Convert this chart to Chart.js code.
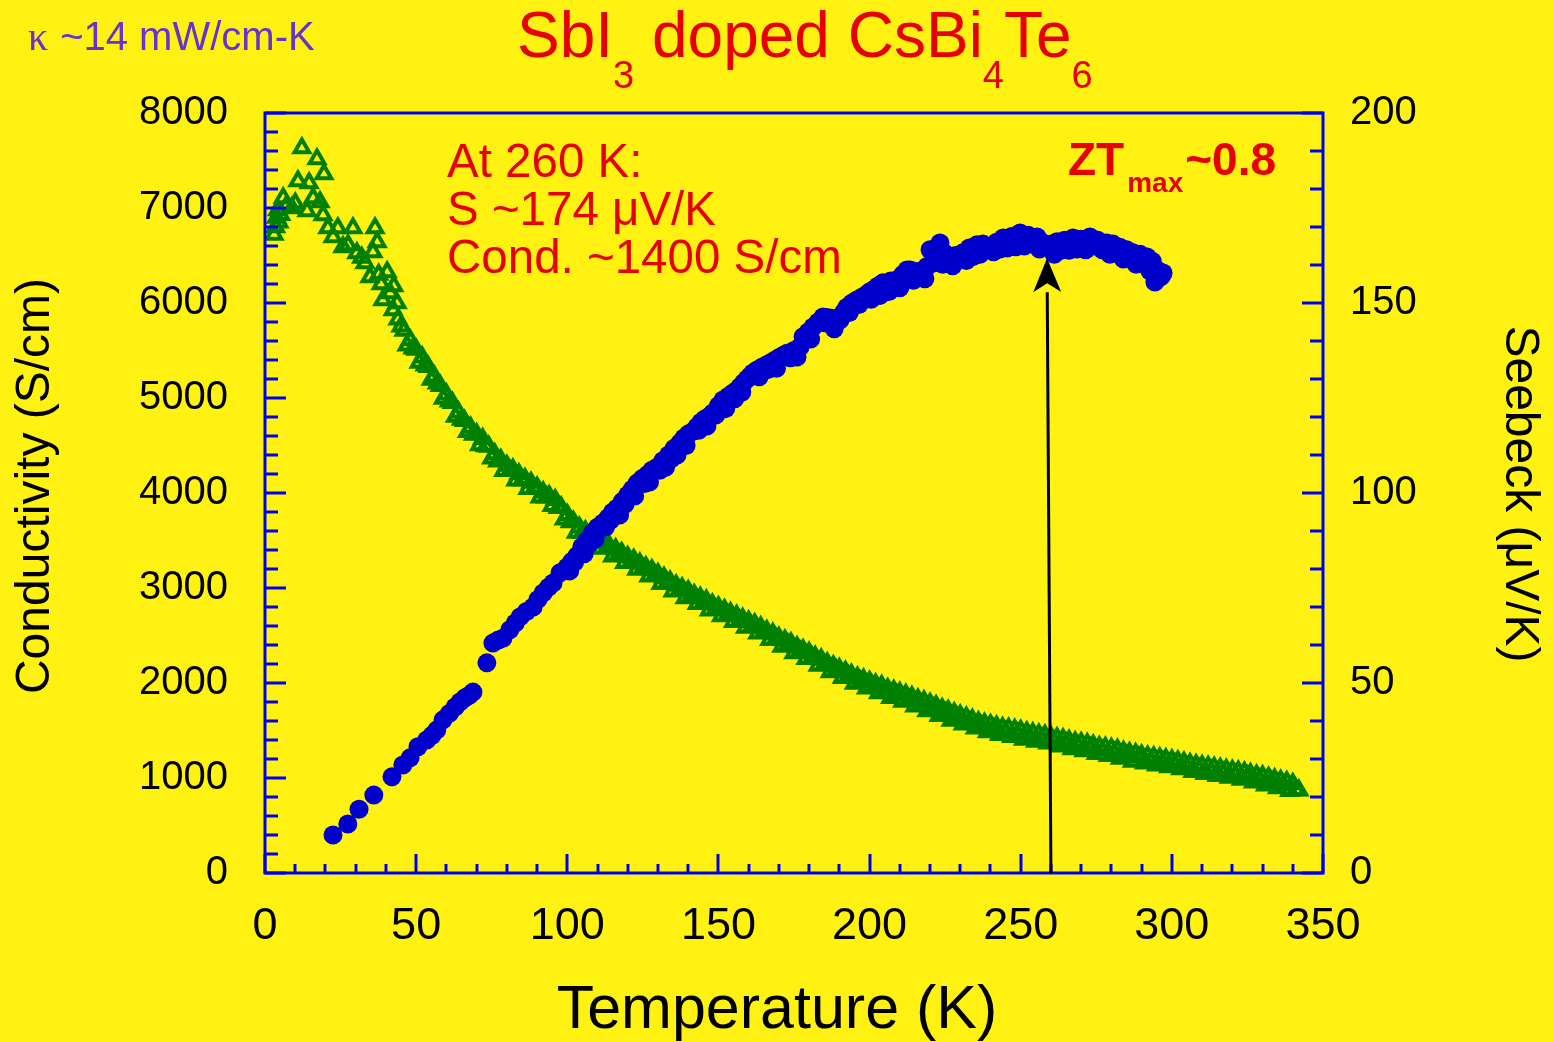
<!DOCTYPE html>
<html>
<head>
<meta charset="utf-8">
<script src="https://cdn.jsdelivr.net/npm/chart.js@4.4.0/dist/chart.umd.min.js"></script>
<style>
  html, body { margin: 0; padding: 0; background: #FFF212; }
  #wrap { width: 1554px; height: 1042px; }
</style>
</head>
<body>
<div id="wrap"><canvas id="c" width="1554" height="1042"></canvas></div>
<script>
// Electrical conductivity (S/cm) vs temperature (K), first sweep
const temperatureCond = [
  3.0, 3.5, 3.8, 4.2, 4.6, 5.2, 6.0, 7.2, 8.9, 10.0, 10.9, 12.2, 13.9, 14.6, 15.9, 17.2,
  18.2, 19.2, 19.5, 20.8, 22.5, 24.1, 25.8, 27.5, 29.1, 30.4, 32.0, 33.1, 34.7, 35.7, 36.4,
  37.1, 37.6, 38.4, 39.0, 40.4, 41.4, 42.4, 42.6, 43.7,
  44, 46, 48, 50, 52, 54, 56, 58, 60, 62, 64, 66, 68, 70, 72, 74, 76, 78, 80, 82, 84, 86, 88,
  90, 92, 94, 96, 98, 100, 102, 104, 106, 108, 110, 112, 114, 116, 118, 120, 122, 124, 126,
  128, 130, 132, 134, 136, 138, 140, 142, 144, 146, 148, 150, 152, 154, 156, 158, 160, 162,
  164, 166, 168, 170, 172, 174, 176, 178, 180, 182, 184, 186, 188, 190, 192, 194, 196, 198,
  200, 202, 204, 206, 208, 210, 212, 214, 216, 218, 220, 222, 224, 226, 228, 230, 232, 234,
  236, 238, 240, 242, 244, 246, 248, 250, 252, 254, 256, 258, 260, 262, 264, 266, 268, 270,
  272, 274, 276, 278, 280, 282, 284, 286, 288, 290, 292, 294, 296, 298, 300, 302, 304, 306,
  308, 310, 312, 314, 316, 318, 320, 322, 324, 326, 328, 330, 332, 334, 336, 338, 340, 342
];
const conductivity = [
  6720, 6800, 6900, 6980, 6850, 6930, 7105, 7030, 7000, 7050, 7284, 7632, 6968, 7263, 7105, 7516,
  7063, 6926, 7358, 6789, 6695, 6789, 6589, 6610, 6789, 6526, 6480, 6421, 6274, 6537, 6789,
  6642, 6300, 6200, 6032, 6326, 6105, 5926, 6180, 6000,
  5830, 5710, 5610, 5510, 5430, 5330, 5230, 5130, 5040, 4950, 4850, 4760, 4690, 4620, 4570, 4490, 4410, 4350, 4290, 4250, 4200, 4150, 4110,
  4060, 4010, 3970, 3930, 3850, 3770, 3700, 3640, 3600, 3560, 3520, 3480, 3440, 3410, 3370, 3330, 3300, 3260, 3220,
  3190, 3150, 3110, 3070, 3030, 3000, 2970, 2930, 2900, 2870, 2830, 2800, 2770, 2740, 2710, 2680, 2650, 2620,
  2590, 2550, 2520, 2480, 2450, 2420, 2380, 2350, 2320, 2280, 2250, 2210, 2180, 2150, 2120, 2090, 2060, 2040,
  2015, 1990, 1970, 1940, 1920, 1900, 1880, 1855, 1830, 1810, 1785, 1760, 1730, 1710, 1685, 1660, 1640, 1615,
  1590, 1575, 1560, 1545, 1530, 1520, 1510, 1500, 1485, 1475, 1460, 1450, 1435, 1420, 1410, 1395, 1380, 1370,
  1360, 1345, 1330, 1320, 1310, 1300, 1280, 1265, 1255, 1240, 1230, 1220, 1210, 1200, 1190, 1180, 1165, 1150,
  1140, 1130, 1120, 1110, 1100, 1090, 1080, 1070, 1060, 1045, 1030, 1020, 1005, 990, 975, 960, 940, 870
];

// Conductivity, second sweep (interleaved temperatures)
const temperatureCond2 = [
  45, 47, 49, 51, 53, 55, 57, 59, 61, 63, 65, 67, 69, 71, 73, 75, 77, 79, 81, 83, 85, 87, 89,
  91, 93, 95, 97, 99, 101, 103, 105, 107, 109, 111, 113, 115, 117, 119, 121, 123, 125, 127,
  129, 131, 133, 135, 137, 139, 141, 143, 145, 147, 149, 151, 153, 155, 157, 159, 161, 163,
  165, 167, 169, 171, 173, 175, 177, 179, 181, 183, 185, 187, 189, 191, 193, 195, 197, 199,
  201, 203, 205, 207, 209, 211, 213, 215, 217, 219, 221, 223, 225, 227, 229, 231, 233, 235,
  237, 239, 241, 243, 245, 247, 249, 251, 253, 255, 257, 259, 261, 263, 265, 267, 269, 271,
  273, 275, 277, 279, 281, 283, 285, 287, 289, 291, 293, 295, 297, 299, 301, 303, 305, 307,
  309, 311, 313, 315, 317, 319, 321, 323, 325, 327, 329, 331, 333, 335, 337, 339, 341
];
const conductivity2 = [
  5755, 5555, 5525, 5375, 5345, 5195, 5155, 4995, 4965, 4805, 4775, 4645, 4615, 4505, 4495, 4365, 4335, 4235, 4235, 4135, 4135, 4045, 4045,
  3955, 3955, 3865, 3845, 3725, 3695, 3585, 3585, 3495, 3505, 3415, 3425, 3335, 3355, 3265, 3275, 3195, 3205, 3125,
  3135, 3045, 3055, 2965, 2975, 2895, 2915, 2835, 2845, 2765, 2775, 2705, 2715, 2645, 2655, 2585, 2595, 2525,
  2535, 2455, 2465, 2385, 2405, 2315, 2335, 2255, 2265, 2185, 2195, 2115, 2135, 2055, 2075, 1995, 2015, 1945,
  1965, 1895, 1915, 1845, 1875, 1805, 1825, 1755, 1775, 1705, 1735, 1655, 1685, 1605, 1635, 1565, 1585, 1525,
  1545, 1485, 1515, 1455, 1485, 1435, 1465, 1405, 1435, 1385, 1415, 1365, 1385, 1335, 1365, 1305, 1335, 1285,
  1315, 1255, 1285, 1235, 1265, 1205, 1235, 1175, 1215, 1155, 1185, 1135, 1165, 1115, 1145, 1095, 1115, 1065,
  1095, 1045, 1075, 1025, 1055, 1005, 1035, 985, 1015, 955, 985, 925, 955, 895, 925, 865, 875
];

// Seebeck coefficient (µV/K) vs temperature (K), first sweep
const temperatureSeebeck = [
  22.5, 27.4, 31.1, 36.0, 42.0, 45.6, 48.0, 50.6, 53.5, 55.2, 56.8, 58.9, 61.0, 62.9, 64.5, 66.2,
  67.6, 68.8, 73.4, 75.4, 77.2, 78.7, 81.0, 82.8, 84.4, 86.5, 88.7, 90.3, 92.0, 93.8, 95.3, 97.6,
  99.9, 101.5, 103.2, 104.8, 106.5, 108.3, 110.0, 111.8, 113.5, 115.0, 116.4, 118.2, 120.0, 121.5,
  123.1, 124.8, 126.5, 128.0, 129.7, 131.6, 133.5, 135.4, 137.3, 138.6, 140.0, 141.5, 142.9, 144.2,
  145.5, 147.0, 148.2, 150.0, 151.5, 153.2, 154.8, 156.0, 157.1, 158.3, 159.5, 160.5, 161.4, 162.8,
  164.2, 165.7, 167.1, 168.5, 170.0, 171.4, 172.7, 175.0, 177.0, 178.0, 179.7, 181.3, 183.0, 184.6,
  186.0, 187.5, 189.0, 190.2, 191.4, 192.5, 194.2, 195.8, 197.2, 198.5, 199.8, 201.1, 202.7, 204.4,
  205.8, 207.0, 209.1, 211.0, 212.4, 213.4, 215.5, 216.7, 217.7, 219.0, 220.0, 221.0, 222.0, 223.3,
  225.0, 226.6, 228.5, 230.9, 233.0, 235.5, 237.5, 239.8, 242.0, 244.2, 247.0, 249.8, 252.5, 255.4,
  257.0, 258.7, 260.3, 262.0, 264.5, 267.3, 270.0, 272.9, 275.5, 278.5, 280.5, 282.8, 285.0, 287.1,
  289.5, 291.8, 293.5, 295.1, 294.4, 296.0, 297.1
];
const seebeck = [
  10.0, 12.9, 16.8, 20.5, 25.3, 28.4, 30.3, 33.2, 35.0, 36.2, 37.6, 40.3, 42.0, 43.7, 45.0, 46.1,
  46.8, 47.6, 55.3, 60.5, 61.3, 61.8, 64.0, 65.8, 67.4, 68.8, 70.0, 72.0, 73.7, 75.2, 76.3, 79.0,
  80.5, 82.0, 83.5, 85.8, 87.5, 89.5, 91.0, 92.1, 93.5, 95.0, 96.0, 97.8, 99.5, 101.0,
  102.6, 103.8, 104.8, 106.0, 106.8, 108.5, 110.0, 111.8, 113.2, 114.5, 115.5, 116.2, 117.4, 118.6,
  119.5, 120.2, 121.1, 123.0, 124.5, 125.4, 126.3, 127.0, 127.9, 129.0, 130.0, 130.8, 131.6, 132.4,
  133.0, 133.6, 134.2, 134.9, 135.6, 136.2, 136.8, 137.5, 138.4, 141.1, 142.4, 143.7, 145.0, 146.3,
  146.2, 146.0, 145.6, 145.5, 147.5, 148.9, 150.0, 150.8, 151.4, 152.0, 152.8, 153.4, 154.4, 155.3,
  154.2, 155.8, 156.1, 157.5, 158.7, 158.7, 158.3, 157.9, 158.7, 159.6, 164.0, 160.5, 164.5, 165.8,
  163.0, 161.3, 162.5, 163.2, 164.5, 165.3, 165.5, 164.7, 166.0, 167.1, 167.5, 168.4, 167.8, 167.4,
  166.0, 164.7, 165.5, 166.1, 166.5, 167.1, 166.8, 167.4, 166.5, 165.8, 165.5, 164.7, 164.0, 163.2,
  162.8, 162.1, 161.0, 158.7, 155.5, 156.8, 157.9
];

// Seebeck, second sweep
const temperatureSeebeck2 = [
  100.8, 102.4, 105.6, 107.4, 109.2, 112.6, 114.3, 117.3, 119.1, 122.3, 125.6, 127.2, 130.6,
  132.5, 134.4, 136.3, 139.3, 143.5, 146.2, 149.1, 152.4, 155.4, 157.7, 163.5, 166.4, 169.2,
  173.8, 176.0, 180.5, 185.3, 188.3, 193.3, 196.5, 200.5, 203.5, 206.4, 208.0, 210.0, 214.5,
  218.3, 224.2, 227.5, 229.7, 232.0, 234.2, 236.5, 238.6, 241.0, 243.1, 245.6, 248.4, 251.2,
  253.9, 256.2, 261.1, 263.2, 266.0, 268.6, 271.5, 274.2, 277.0, 279.5, 281.6, 284.0, 286.0,
  288.2, 290.6, 292.7, 294.0, 296.5
];
const seebeck2 = [
  79.5, 81.8, 84.0, 86.8, 87.8, 91.0, 92.8, 94.2, 97.0, 99.2, 102.5, 102.9, 106.0,
  106.8, 109.0, 110.0, 112.5, 116.5, 117.6, 120.5, 122.2, 124.8, 126.5, 130.6, 132.5, 132.8,
  135.6, 135.8, 140.5, 144.8, 143.2, 147.5, 149.6, 151.0, 152.0, 153.0, 154.8, 154.0, 156.0,
  156.4, 160.2, 159.8, 161.5, 161.2, 162.2, 162.8, 164.0, 163.5, 164.2, 164.5, 164.8, 165.0,
  166.1, 164.2, 162.8, 163.8, 163.9, 164.2, 164.0, 165.0, 164.0, 162.8, 163.9, 161.6, 162.2,
  160.2, 160.9, 158.5, 157.8, 157.0
];

// Axis tick labels
const xTickValues = [0, 50, 100, 150, 200, 250, 300, 350];
const yLeftTickValues = [0, 1000, 2000, 3000, 4000, 5000, 6000, 7000, 8000];
const yRightTickValues = [0, 50, 100, 150, 200];

// Arrow marking the 260 K point
const arrowBaseT = 260.0;
const arrowTipT = 258.7;
const arrowTipS = 161.8;

const BG = '#FFF212';
const AXIS = '#0000F0';
const GREEN = '#008000';
const BLUE = '#0000CC';
const RED = '#E60000';
const PURPLE = '#6633CC';
const SANS = '"Liberation Sans", Arial, Helvetica, sans-serif';

function drawRun(ctx, parts, x) {
  let cx = x;
  for (const p of parts) {
    ctx.font = p.font;
    ctx.fillStyle = p.color;
    ctx.fillText(p.text, cx, p.y);
    cx += ctx.measureText(p.text).width + (p.gap || 0);
  }
}

const decor = {
  id: 'decor',
  beforeDraw(chart) {
    const ctx = chart.ctx;
    ctx.save();
    ctx.fillStyle = BG;
    ctx.fillRect(0, 0, chart.width, chart.height);
    ctx.restore();
  },
  afterDraw(chart) {
    const ctx = chart.ctx;
    const a = chart.chartArea;
    const sx = chart.scales.x, sy = chart.scales.y, sy1 = chart.scales.y1;
    ctx.save();

    // inward tick marks
    ctx.strokeStyle = AXIS;
    ctx.lineWidth = 3;
    ctx.lineCap = 'butt';
    const seg = (x1, y1, x2, y2) => { ctx.beginPath(); ctx.moveTo(x1, y1); ctx.lineTo(x2, y2); ctx.stroke(); };
    for (let t = 0; t <= 350; t += 10) {
      const px = Math.round(sx.getPixelForValue(t));
      seg(px, a.bottom, px, a.bottom - (t % 50 === 0 ? 19 : 9));
    }
    for (let v = 0; v <= 8000; v += 200) {
      const py = Math.round(sy.getPixelForValue(v));
      seg(a.left, py, a.left + (v % 1000 === 0 ? 21 : 13), py);
    }
    for (let v = 0; v <= 200; v += 10) {
      const py = Math.round(sy1.getPixelForValue(v));
      seg(a.right, py, a.right - (v % 50 === 0 ? 21 : 13), py);
    }
    // frame
    ctx.strokeRect(a.left, a.top, a.right - a.left, a.bottom - a.top);

    // arrow at 260 K
    const bx = sx.getPixelForValue(arrowBaseT), by = a.bottom;
    const tx = sx.getPixelForValue(arrowTipT), ty = sy1.getPixelForValue(arrowTipS);
    const ang = Math.atan2(ty - by, tx - bx);
    const headLen = 34, headHalf = 14;
    const hx = tx - Math.cos(ang) * headLen, hy = ty - Math.sin(ang) * headLen;
    ctx.strokeStyle = '#000';
    ctx.lineWidth = 3;
    seg(bx, by, hx, hy);
    ctx.fillStyle = '#000';
    ctx.beginPath();
    ctx.moveTo(tx, ty);
    ctx.lineTo(hx - Math.sin(ang) * headHalf, hy + Math.cos(ang) * headHalf);
    ctx.lineTo(tx - Math.cos(ang) * (headLen - 9), ty - Math.sin(ang) * (headLen - 9));
    ctx.lineTo(hx + Math.sin(ang) * headHalf, hy - Math.cos(ang) * headHalf);
    ctx.closePath();
    ctx.fill();

    // axis titles
    ctx.fillStyle = '#000';
    ctx.textBaseline = 'alphabetic';
    ctx.textAlign = 'center';
    ctx.font = '61px ' + SANS;
    ctx.fillText('Temperature (K)', 777, 1028);

    ctx.save();
    ctx.translate(49, 486);
    ctx.rotate(-Math.PI / 2);
    ctx.font = '48px ' + SANS;
    ctx.fillText('Conductivity (S/cm)', 0, 0);
    ctx.restore();

    ctx.save();
    ctx.translate(1506, 494);
    ctx.rotate(Math.PI / 2);
    ctx.font = '48px ' + SANS;
    ctx.fillText('Seebeck (\u03BCV/K)', 0, 0);
    ctx.restore();

    // title with subscripts
    ctx.textAlign = 'left';
    const big = '64px ' + SANS, sub = '38px ' + SANS;
    drawRun(ctx, [
      { text: 'SbI', font: big, color: RED, y: 57 },
      { text: '3', font: sub, color: RED, y: 88 },
      { text: ' doped CsBi', font: big, color: RED, y: 57 },
      { text: '4', font: sub, color: RED, y: 88 },
      { text: 'Te', font: big, color: RED, y: 57 },
      { text: '6', font: sub, color: RED, y: 88 }
    ], 517);

    // thermal conductivity note
    drawRun(ctx, [
      { text: '\u03BA', font: '40px "Liberation Serif", "DejaVu Serif", serif', color: PURPLE, y: 50, gap: 12 },
      { text: '~14 mW/cm-K', font: '40px ' + SANS, color: PURPLE, y: 50 }
    ], 28);

    // values at 260 K
    ctx.fillStyle = RED;
    ctx.font = '47.5px ' + SANS;
    ctx.fillText('At 260 K:', 447, 177);
    ctx.fillText('S ~174 \u03BCV/K', 447, 225);
    ctx.fillText('Cond. ~1400 S/cm', 447, 273);

    // ZT max
    drawRun(ctx, [
      { text: 'ZT', font: 'bold 46px ' + SANS, color: RED, y: 175, gap: 3 },
      { text: 'max', font: 'bold 28px ' + SANS, color: RED, y: 192, gap: 2 },
      { text: '~0.8', font: 'bold 46px ' + SANS, color: RED, y: 175 }
    ], 1068);

    ctx.restore();
  }
};

const toPoints = (xs, ys) => xs.map((t, i) => ({ x: t, y: ys[i] }));
const plain = v => String(v);

new Chart(document.getElementById('c'), {
  type: 'scatter',
  data: {
    datasets: [
      {
        label: 'Conductivity',
        data: toPoints(temperatureCond, conductivity).concat(toPoints(temperatureCond2, conductivity2)),
        yAxisID: 'y',
        order: 2,
        pointStyle: 'triangle',
        pointRadius: 8.5,
        pointBorderWidth: 4,
        pointBorderColor: GREEN,
        pointBackgroundColor: 'rgba(0,0,0,0)',
        showLine: false
      },
      {
        label: 'Seebeck',
        data: toPoints(temperatureSeebeck, seebeck).concat(toPoints(temperatureSeebeck2, seebeck2)),
        yAxisID: 'y1',
        order: 1,
        pointStyle: 'circle',
        pointRadius: 9.5,
        pointBorderWidth: 0,
        pointBackgroundColor: BLUE,
        pointBorderColor: BLUE,
        showLine: false
      }
    ]
  },
  options: {
    responsive: false,
    animation: false,
    devicePixelRatio: 1,
    layout: { padding: { top: 113, left: 0, right: 0, bottom: 0 } },
    plugins: { legend: { display: false }, tooltip: { enabled: false }, title: { display: false } },
    scales: {
      x: {
        type: 'linear', min: 0, max: 350,
        afterBuildTicks: s => { s.ticks = xTickValues.map(v => ({ value: v })); },
        afterFit: s => { s.height = 169; },
        grid: { display: false, drawTicks: false },
        border: { display: false },
        ticks: { color: '#000', font: { family: SANS, size: 45 }, padding: 27, maxRotation: 0, autoSkip: false, callback: plain }
      },
      y: {
        type: 'linear', position: 'left', min: 0, max: 8000,
        afterBuildTicks: s => { s.ticks = yLeftTickValues.map(v => ({ value: v })); },
        afterFit: s => { s.width = 265; },
        grid: { display: false, drawTicks: false },
        border: { display: false },
        ticks: { color: '#000', font: { family: SANS, size: 40 }, padding: 37, autoSkip: false, callback: plain }
      },
      y1: {
        type: 'linear', position: 'right', min: 0, max: 200,
        afterBuildTicks: s => { s.ticks = yRightTickValues.map(v => ({ value: v })); },
        afterFit: s => { s.width = 231; },
        grid: { display: false, drawTicks: false },
        border: { display: false },
        ticks: { color: '#000', font: { family: SANS, size: 40 }, padding: 27, autoSkip: false, callback: plain }
      }
    }
  },
  plugins: [decor]
});
</script>
</body>
</html>
